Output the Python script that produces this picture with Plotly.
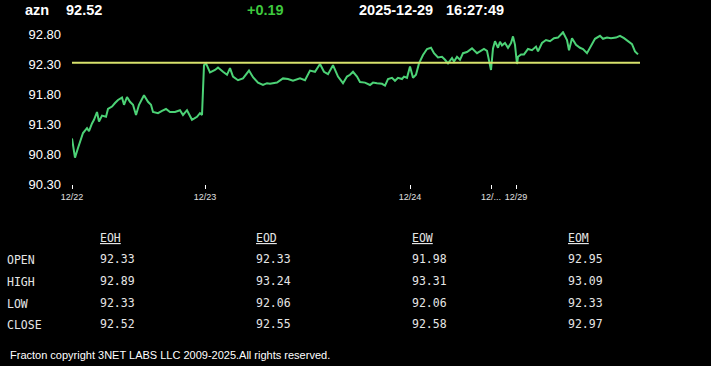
import plotly.graph_objects as go

# ---------------- data ----------------
symbol = "azn"
last_price = "92.52"
change = "+0.19"
date_str = "2025-12-29"
time_str = "16:27:49"
ref_price = 92.32  # horizontal reference (open)

# time index (intraday sample position) and price
t = [0, 3, 6, 11, 15, 17, 20, 22, 25, 27, 30, 34, 36, 40, 43, 46, 50, 52, 55, 58,
     61, 64, 67, 70, 72, 76, 79, 81, 86, 90, 94, 98, 103, 108, 111, 115, 120, 125, 128, 130,
     132, 134, 138, 143, 146, 151, 155, 158, 161, 166, 171, 177, 181, 186, 191, 195, 198, 205, 211, 216,
     221, 228, 233, 238, 243, 248, 252, 256, 261, 266, 271, 275, 278, 281, 285, 288, 293, 298, 301, 305,
     310, 313, 316, 320, 323, 326, 330, 332, 335, 338, 341, 344, 347, 351, 355, 359, 362, 366, 370, 373,
     376, 380, 382, 385, 388, 391, 395, 400, 405, 408, 412, 415, 419, 421, 423, 426, 428, 430, 433, 436,
     439, 441, 443, 445, 446, 449, 452, 456, 460, 464, 466, 470, 474, 478, 482, 486, 491, 495, 497, 500,
     504, 508, 511, 515, 519, 523, 528, 531, 535, 539, 544, 548, 552, 556, 560, 563, 566]
price = [91.06, 90.74, 90.90, 91.15, 91.23, 91.18, 91.31, 91.37, 91.50, 91.34, 91.44, 91.42, 91.55, 91.59, 91.65, 91.70, 91.74, 91.62, 91.75, 91.67,
         91.62, 91.45, 91.62, 91.73, 91.78, 91.67, 91.62, 91.50, 91.48, 91.52, 91.55, 91.50, 91.50, 91.53, 91.45, 91.53, 91.37, 91.42, 91.48, 91.45,
         92.28, 92.31, 92.16, 92.20, 92.24, 92.17, 92.12, 92.23, 92.09, 92.03, 92.06, 92.19, 92.08, 91.99, 91.95, 91.98, 91.97, 91.99, 92.06, 92.05,
         92.02, 92.06, 92.03, 92.19, 92.17, 92.30, 92.17, 92.13, 92.28, 92.09, 91.98, 92.09, 92.12, 92.17, 92.09, 92.00, 91.99, 91.95, 91.99, 91.98,
         91.97, 91.94, 92.05, 92.07, 92.02, 92.07, 92.05, 92.09, 92.07, 92.26, 92.07, 92.12, 92.31, 92.45, 92.55, 92.57, 92.48, 92.41, 92.42, 92.37,
         92.31, 92.40, 92.34, 92.42, 92.37, 92.48, 92.50, 92.56, 92.48, 92.51, 92.55, 92.52, 92.20, 92.56, 92.68, 92.57, 92.67, 92.61, 92.65, 92.57,
         92.65, 92.76, 92.62, 92.30, 92.42, 92.46, 92.46, 92.55, 92.53, 92.59, 92.51, 92.65, 92.70, 92.68, 92.73, 92.74, 92.83, 92.70, 92.53, 92.73,
         92.62, 92.57, 92.55, 92.48, 92.61, 92.72, 92.77, 92.72, 92.74, 92.73, 92.74, 92.77, 92.73, 92.68, 92.63, 92.51, 92.46]

y_ticks = [90.30, 90.80, 91.30, 91.80, 92.30, 92.80]
x_tick_pos = [0, 133, 338, 419, 444]
x_tick_labels = ["12/22", "12/23", "12/24", "12/...", "12/29"]

table_cols = ["EOH", "EOD", "EOW", "EOM"]
table_rows = ["OPEN", "HIGH", "LOW", "CLOSE"]
table_vals = [
    ["92.33", "92.33", "91.98", "92.95"],
    ["92.89", "93.24", "93.31", "93.09"],
    ["92.33", "92.06", "92.06", "92.33"],
    ["92.52", "92.55", "92.58", "92.97"],
]
footer = "Fracton copyright 3NET LABS LLC 2009-2025.All rights reserved."

# ---------------- layout helpers ----------------
W, H = 711, 366
L, R, T, B = 72, 71, 31, 182
PW = W - L - R
PH = H - T - B


def px(x):
    return (x - L) / PW


def py(y):
    return (H - B - y) / PH


fig = go.Figure()
fig.add_trace(go.Scatter(x=t, y=price, mode="lines",
                         line=dict(color="#4cd276", width=2), hoverinfo="skip"))
fig.add_hline(y=ref_price, line=dict(color="#d8e26c", width=2))

ann = []
hdr_font = dict(family="Liberation Sans, Arial", size=14.5, color="#ffffff")
for txt, x, col in [(f"<b>{symbol}</b>", 23, "#ffffff"),
                    (f"<b>{last_price}</b>", 64, "#ffffff"),
                    (f"<b>{change}</b>", 245, "#3ec83e"),
                    (f"<b>{date_str}</b>", 357, "#ffffff"),
                    (f"<b>{time_str}</b>", 444, "#ffffff")]:
    f = dict(hdr_font)
    f["color"] = col
    ann.append(dict(text=txt, x=px(x), y=py(10), xref="paper", yref="paper",
                    xanchor="left", yanchor="middle", showarrow=False, font=f))

mono = dict(family="DejaVu Sans Mono, Liberation Mono, monospace", size=11.5, color="#e6e6e6")
col_x = [98, 254, 410, 566]
row_y = [259, 281, 303, 324]
for cx, name in zip(col_x, table_cols):
    ann.append(dict(text=f"<u>{name}</u>", x=px(cx), y=py(238), xref="paper", yref="paper",
                    xanchor="left", yanchor="middle", showarrow=False, font=mono))
for ry, name, vals in zip(row_y, table_rows, table_vals):
    ann.append(dict(text=name, x=px(5), y=py(ry + 0.5), xref="paper", yref="paper",
                    xanchor="left", yanchor="middle", showarrow=False, font=mono))
    for cx, v in zip(col_x, vals):
        ann.append(dict(text=v, x=px(cx), y=py(ry - 0.5), xref="paper", yref="paper",
                        xanchor="left", yanchor="middle", showarrow=False, font=mono))

ann.append(dict(text=footer, x=px(8), y=py(355), xref="paper", yref="paper",
                xanchor="left", yanchor="middle", showarrow=False,
                font=dict(family="Liberation Sans, Arial", size=11, color="#ffffff")))

fig.update_layout(
    width=W, height=H,
    margin=dict(l=L, r=R, t=T, b=B, pad=0),
    paper_bgcolor="#000000", plot_bgcolor="#000000",
    showlegend=False,
    annotations=ann,
    xaxis=dict(range=[0, PW], showgrid=False, zeroline=False, showline=False,
               tickmode="array", tickvals=x_tick_pos, ticktext=x_tick_labels,
               ticks="outside", ticklen=4, tickwidth=1, tickcolor="#ffffff",
               tickfont=dict(family="Liberation Sans, Arial", size=9, color="#e0e0e0")),
    yaxis=dict(range=[90.30, 90.30 + PH / 60.0], showgrid=False, zeroline=False, showline=False,
               tickmode="array", tickvals=y_ticks, ticktext=[f"{v:.2f}" for v in y_ticks],
               ticks="", ticklabelstandoff=10,
               tickfont=dict(family="Liberation Sans, Arial", size=13, color="#ffffff")),
)

# remove the browser's default page margin so the figure sits at the window origin
fig.write_html("out.html",
               config={"displayModeBar": False},
               post_script="document.body.style.margin='0px';document.body.style.background='#000';")
